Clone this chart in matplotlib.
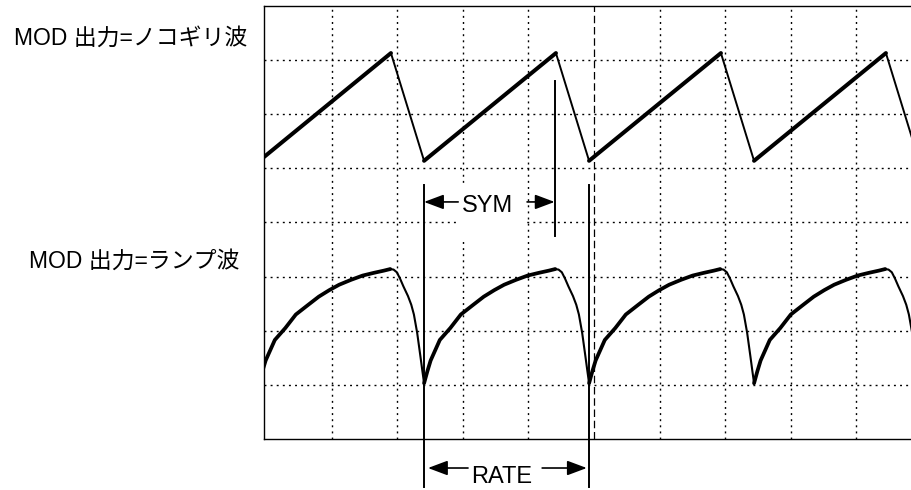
import numpy as np
import matplotlib.pyplot as plt
from matplotlib.patches import Rectangle

plt.rcParams['font.family'] = ['Liberation Sans', 'Noto Sans CJK JP', 'DejaVu Sans']

# screen divisions: 10 horizontal x 8 vertical
# sawtooth (MOD = ノコギリ波) vertices
saw_x = [-0.03, 1.905, 2.41, 4.42, 4.925, 6.935, 7.44, 9.45, 9.955, 10.0]
saw_y = [5.21, 7.13, 5.14, 7.13, 5.14, 7.13, 5.14, 7.13, 5.14, 5.18]

ramp_t = [0, 0.05, 0.1, 0.24, 0.4, 0.56, 0.75, 0.91, 1.07, 1.22, 1.4, 1.58,
          1.75, 1.9, 2.0,
          2.05, 2.1, 2.15, 2.2, 2.27, 2.32, 2.36, 2.41, 2.46, 2.49, 2.515]
ramp_y = [1.03, 1.25, 1.45, 1.83, 2.05, 2.30, 2.48, 2.63, 2.75, 2.85, 2.94, 3.02,
          3.07, 3.11, 3.14,
          3.13, 3.08, 2.96, 2.82, 2.64, 2.48, 2.30, 1.96, 1.52, 1.25, 1.03]
n_rise = 15
cycle_start = [-0.105, 2.41, 4.925, 7.44]

label_saw = "MOD 出力=ノコギリ波"
label_ramp = "MOD 出力=ランプ波"

fig = plt.figure(figsize=(9.11, 4.90), dpi=100)
ax = fig.add_axes([264 / 911, 51 / 490, 658 / 911, 433 / 490])
ax.set_xlim(-0.03, 10)
ax.set_ylim(0, 8)
ax.set_xticks([])
ax.set_yticks([])
ax.spines['right'].set_visible(False)
for s in ['left', 'top', 'bottom']:
    ax.spines[s].set_linewidth(1.0)

# graticule
for gx in range(1, 10):
    if gx == 5:
        ax.axvline(gx, color='black', lw=0.9, dashes=(6, 3), zorder=1)
    else:
        ax.axvline(gx, color='black', lw=1.0, dashes=(1.4, 3), zorder=1)
for gy in range(1, 8):
    ax.axhline(gy, color='black', lw=1.0, dashes=(1.4, 3), zorder=1)

# white patch behind SYM label
ax.add_patch(Rectangle((2.96, 3.72), 1.02, 1.01, facecolor='white',
                       edgecolor='none', zorder=2))

# sawtooth: rising edges thick, falling thin
for i in range(len(saw_x) - 1):
    rising = saw_y[i + 1] > saw_y[i]
    ax.plot(saw_x[i:i + 2], saw_y[i:i + 2], color='black',
            lw=2.9 if rising else 1.4, solid_capstyle='round', zorder=3)

# ramp
rt = np.array(ramp_t)
ry = np.array(ramp_y)
for c in cycle_start:
    ax.plot(rt[:n_rise] + c, ry[:n_rise], color='black', lw=2.7,
            solid_capstyle='round', solid_joinstyle='round', zorder=3)
    ax.plot(rt[n_rise - 1:] + c, ry[n_rise - 1:], color='black', lw=1.5,
            solid_joinstyle='round', zorder=3)

# marker lines
ax.plot([2.41, 2.41], [4.69, -0.89], color='black', lw=1.4, clip_on=False, zorder=4)
ax.plot([4.925, 4.925], [4.69, -0.89], color='black', lw=1.4, clip_on=False, zorder=4)
ax.plot([4.40, 4.40], [6.62, 3.75], color='black', lw=1.4, zorder=4)

arrow = dict(arrowstyle='-|>,head_length=1.2,head_width=0.45', color='black',
             lw=1.2, shrinkA=0, shrinkB=0, mutation_scale=10)
# SYM
ax.annotate('', xy=(2.41, 4.38), xytext=(2.93, 4.38), arrowprops=arrow, zorder=4)
ax.annotate('', xy=(4.40, 4.38), xytext=(3.98, 4.38), arrowprops=arrow, zorder=4)
ax.text(3.38, 4.31, 'SYM', fontsize=17, ha='center', va='center', zorder=4)
# RATE
ax.annotate('', xy=(2.47, -0.536), xytext=(3.08, -0.536), arrowprops=arrow,
            annotation_clip=False)
ax.annotate('', xy=(4.89, -0.536), xytext=(4.21, -0.536), arrowprops=arrow,
            annotation_clip=False)
ax.text(3.6, -0.70, 'RATE', fontsize=17, ha='center', va='center', clip_on=False)

fig.text(131 / 911, 1 - 38.5 / 490, label_saw, fontsize=16.5, ha='center', va='center')
fig.text(134 / 911, 1 - 261.5 / 490, label_ramp, fontsize=16.5, ha='center', va='center')

fig.savefig('out.png', dpi=100)
